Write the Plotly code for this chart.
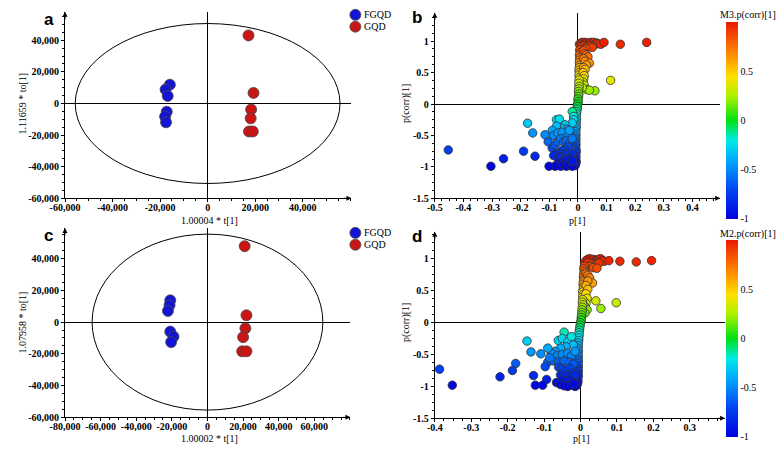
import plotly.graph_objects as go

# ---------------- data ----------------
# Panel a (OPLS-DA scores, M3)
a_fgqd_x = [-15900, -17700, -16800, -17200, -17900, -17500]
a_fgqd_y = [11900, 8900, 4800, -5200, -8300, -11900]
a_gqd_x = [17200, 19300, 18300, 18100, 17400, 19000]
a_gqd_y = [43100, 6700, -3750, -9400, -17700, -17700]

# Panel c (OPLS-DA scores, M2)
c_fgqd_x = [-20900, -21300, -22200, -20900, -19100, -20400]
c_fgqd_y = [13700, 10600, 7000, -6000, -9100, -12600]
c_gqd_x = [20900, 21900, 21300, 20000, 19500, 21900]
c_gqd_y = [47800, 4300, -3900, -9500, -18400, -18400]

# Hotelling T2 ellipse half-axes
a_ell = (55700, 50600)
c_ell = (64800, 55400)

# Panel b S-plot (p[1], p(corr)[1])
b_pts = [
    (0.005, 0.95), (0.01, 0.97), (0.015, 0.98), (0.02, 0.96), (0.025, 0.98), (0.03, 0.97),
    (0.035, 0.95), (0.04, 0.97), (0.045, 0.98), (0.05, 0.96), (0.055, 0.98), (0.06, 0.95),
    (0.065, 0.97), (0.07, 0.96), (0.08, 0.95), (0.091, 0.98), (0.148, 0.95), (0.24, 0.98),
    (0.012, 0.92), (0.022, 0.93), (0.03, 0.91), (0.042, 0.92), (0.05, 0.9), (0.028, 0.88),
    (0.006, 0.86), (0.008, 0.82), (0.005, 0.78), (0.007, 0.74), (0.006, 0.7), (0.005, 0.66),
    (0.006, 0.62), (0.005, 0.58), (0.004, 0.54), (0.005, 0.5), (0.004, 0.46), (0.005, 0.42),
    (0.02, 0.85), (0.025, 0.8), (0.03, 0.78), (0.035, 0.75), (0.02, 0.72), (0.025, 0.68),
    (0.04, 0.65), (0.03, 0.62), (0.02, 0.58), (0.025, 0.55), (0.018, 0.5), (0.022, 0.45),
    (0.02, 0.4), (0.018, 0.35), (0.022, 0.3), (0.114, 0.376), (0.059, 0.21), (0.031, 0.23),
    (0.04, 0.22), (0.015, 0.26),
    (0.004, 0.38), (0.003, 0.33), (0.004, 0.28), (0.003, 0.24), (0.002, 0.2), (0.003, 0.16),
    (0.002, 0.12), (0.0, 0.08), (0.001, 0.04), (-0.001, 0.0), (-0.002, -0.04), (-0.003, -0.08),
    (-0.004, -0.12), (-0.005, -0.16), (-0.006, -0.2), (-0.005, -0.24), (-0.006, -0.28),
    (-0.007, -0.32), (-0.006, -0.36), (-0.007, -0.4), (-0.008, -0.44), (-0.007, -0.48),
    (-0.008, -0.52), (-0.007, -0.56), (-0.008, -0.6), (-0.007, -0.64), (-0.008, -0.68),
    (-0.007, -0.72), (-0.006, -0.76), (-0.008, -0.8), (-0.007, -0.84), (-0.008, -0.88),
    (-0.006, -0.92), (-0.008, -0.95), (-0.01, -0.98), (-0.015, -0.96), (-0.02, -0.12),
    (-0.015, -0.2), (-0.015, -0.25), (-0.02, -0.3),
    (-0.075, -0.25), (-0.065, -0.24), (-0.045, -0.33), (-0.04, -0.4), (-0.06, -0.38),
    (-0.075, -0.35), (-0.09, -0.42), (-0.115, -0.49), (-0.085, -0.5), (-0.07, -0.46),
    (-0.055, -0.45), (-0.035, -0.5), (-0.03, -0.42), (-0.104, -0.6), (-0.09, -0.7),
    (-0.08, -0.65), (-0.07, -0.6), (-0.06, -0.55), (-0.05, -0.6), (-0.04, -0.58),
    (-0.03, -0.62), (-0.02, -0.55), (-0.025, -0.7), (-0.035, -0.68), (-0.045, -0.72),
    (-0.055, -0.74), (-0.065, -0.78), (-0.075, -0.8), (-0.085, -0.82), (-0.07, -0.86),
    (-0.06, -0.84), (-0.05, -0.82), (-0.04, -0.8), (-0.03, -0.78), (-0.02, -0.8),
    (-0.025, -0.86), (-0.035, -0.88), (-0.045, -0.9), (-0.055, -0.92), (-0.065, -0.94),
    (-0.075, -0.97), (-0.08, -0.99), (-0.06, -0.99), (-0.05, -0.97), (-0.04, -0.99),
    (-0.03, -0.97), (-0.02, -0.99), (-0.015, -0.92), (-0.02, -0.9), (-0.101, -0.99),
    (-0.15, -0.83), (-0.19, -0.75), (-0.26, -0.87), (-0.304, -0.99), (-0.453, -0.73),
    (-0.176, -0.305), (-0.158, -0.46),
]

# Panel d S-plot (p[1], p(corr)[1])
d_pts = [
    (0.011, 0.93), (0.015, 0.97), (0.02, 0.99), (0.025, 1.0), (0.03, 0.98), (0.035, 0.99),
    (0.04, 0.97), (0.045, 0.98), (0.05, 0.99), (0.055, 1.0), (0.06, 0.97), (0.065, 0.96),
    (0.078, 0.97), (0.108, 0.96), (0.153, 0.95), (0.195, 0.97), (0.02, 0.94), (0.03, 0.92),
    (0.04, 0.9), (0.05, 0.93), (0.025, 0.88), (0.035, 0.86), (0.045, 0.85),
    (0.01, 0.88), (0.009, 0.84), (0.01, 0.8), (0.009, 0.76), (0.008, 0.72), (0.009, 0.68),
    (0.008, 0.64), (0.007, 0.6), (0.008, 0.56), (0.007, 0.52), (0.006, 0.48), (0.007, 0.44),
    (0.006, 0.4), (0.015, 0.77), (0.02, 0.74), (0.025, 0.7), (0.033, 0.62), (0.02, 0.65),
    (0.015, 0.58), (0.02, 0.52), (0.015, 0.45), (0.018, 0.38), (0.042, 0.34), (0.056, 0.22),
    (0.098, 0.31), (0.015, 0.3), (0.012, 0.25), (0.018, 0.2), (0.012, 0.15),
    (0.006, 0.36), (0.005, 0.32), (0.006, 0.28), (0.005, 0.24), (0.004, 0.2), (0.004, 0.16),
    (0.003, 0.12), (0.002, 0.08), (0.002, 0.04), (0.0, 0.0), (-0.001, -0.04), (-0.002, -0.08),
    (-0.003, -0.12), (-0.004, -0.16), (-0.004, -0.2), (-0.005, -0.24), (-0.005, -0.28),
    (-0.006, -0.32), (-0.006, -0.36), (-0.007, -0.4), (-0.006, -0.44), (-0.007, -0.48),
    (-0.006, -0.52), (-0.007, -0.56), (-0.006, -0.6), (-0.007, -0.64), (-0.006, -0.68),
    (-0.007, -0.72), (-0.006, -0.76), (-0.007, -0.8), (-0.006, -0.84), (-0.008, -0.88),
    (-0.007, -0.92), (-0.008, -0.95), (-0.01, -0.98), (-0.015, -1.0),
    (-0.045, -0.15), (-0.061, -0.28), (-0.05, -0.25), (-0.035, -0.3), (-0.025, -0.22),
    (-0.02, -0.35), (-0.04, -0.38), (-0.055, -0.4), (-0.07, -0.45), (-0.08, -0.48),
    (-0.065, -0.52), (-0.05, -0.5), (-0.035, -0.48), (-0.025, -0.52), (-0.015, -0.45),
    (-0.09, -0.62), (-0.097, -0.69), (-0.075, -0.6), (-0.06, -0.62), (-0.045, -0.6),
    (-0.03, -0.62), (-0.02, -0.65), (-0.06, -0.7), (-0.05, -0.72), (-0.04, -0.75),
    (-0.03, -0.72), (-0.02, -0.78), (-0.055, -0.82), (-0.045, -0.85), (-0.035, -0.82),
    (-0.025, -0.85), (-0.015, -0.82), (-0.05, -0.9), (-0.04, -0.92), (-0.03, -0.9),
    (-0.02, -0.93), (-0.066, -0.94), (-0.055, -0.97), (-0.045, -0.99), (-0.035, -1.0),
    (-0.025, -0.98), (-0.018, -0.96), (-0.093, -0.89), (-0.104, -0.98), (-0.124, -0.98),
    (-0.129, -0.83), (-0.109, -0.49), (-0.136, -0.46), (-0.147, -0.29), (-0.178, -0.64),
    (-0.187, -0.75), (-0.221, -0.85), (-0.352, -0.98), (-0.387, -0.73), (-0.09, -0.4),
    (-0.085, -0.55),
]

b_x = [p[0] for p in b_pts]
b_y = [p[1] for p in b_pts]
d_x = [p[0] for p in d_pts]
d_y = [p[1] for p in d_pts]

# tick labels
a_xticks = [-60000, -40000, -20000, 0, 20000, 40000]
a_xlabels = ["-60,000", "-40,000", "-20,000", "0", "20,000", "40,000"]
sc_yticks = [-60000, -40000, -20000, 0, 20000, 40000]
sc_ylabels = ["-60,000", "-40,000", "-20,000", "0", "20,000", "40,000"]
c_xticks = [-80000, -60000, -40000, -20000, 0, 20000, 40000, 60000]
c_xlabels = ["-80,000", "-60,000", "-40,000", "-20,000", "0", "20,000", "40,000", "60,000"]
b_xticks = [-0.5, -0.4, -0.3, -0.2, -0.1, 0, 0.1, 0.2, 0.3, 0.4]
b_xlabels = ["-0.5", "-0.4", "-0.3", "-0.2", "-0.1", "0", "0.1", "0.2", "0.3", "0.4"]
d_xticks = [-0.4, -0.3, -0.2, -0.1, 0, 0.1, 0.2, 0.3]
d_xlabels = ["-0.4", "-0.3", "-0.2", "-0.1", "0", "0.1", "0.2", "0.3"]
s_yticks = [-1.5, -1, -0.5, 0, 0.5, 1]
s_ylabels = ["-1.5", "-1", "-0.5", "0", "0.5", "1"]
cb_ticks = [-1, -0.5, 0, 0.5]
cb_labels = ["-1", "-0.5", "0", "0.5"]

groups = ["FGQD", "GQD"]

# ---------------- style ----------------
W, H = 784, 451
SERIF = "Liberation Serif"
BLUE = "rgb(20,20,215)"
RED = "rgb(200,22,22)"
EDGE = "rgb(70,70,70)"
JET = [
    [0.0, "rgb(0,0,225)"], [0.15, "rgb(0,70,240)"], [0.3, "rgb(0,170,255)"],
    [0.4, "rgb(0,235,230)"], [0.5, "rgb(0,225,20)"], [0.62, "rgb(170,240,0)"],
    [0.72, "rgb(255,225,0)"], [0.85, "rgb(255,130,0)"], [1.0, "rgb(235,25,0)"],
]


def px_x(p):
    return p / W


def px_y(p):
    return 1 - p / H


fig = go.Figure()

# score plots
for xa, ya, fx, fy, gx, gy in [
    ("x", "y", a_fgqd_x, a_fgqd_y, a_gqd_x, a_gqd_y),
    ("x3", "y3", c_fgqd_x, c_fgqd_y, c_gqd_x, c_gqd_y),
]:
    fig.add_trace(go.Scatter(x=fx, y=fy, mode="markers", name=groups[0], xaxis=xa, yaxis=ya,
                             showlegend=False,
                             marker=dict(size=11, color=BLUE, line=dict(color=EDGE, width=0.8))))
    fig.add_trace(go.Scatter(x=gx, y=gy, mode="markers", name=groups[1], xaxis=xa, yaxis=ya,
                             showlegend=False,
                             marker=dict(size=11, color=RED, line=dict(color=EDGE, width=0.8))))

# S-plots
for xa, ya, sx, sy, cy in [("x2", "y2", b_x, b_y, 122), ("x4", "y4", d_x, d_y, 343)]:
    fig.add_trace(go.Scatter(
        x=sx, y=sy, mode="markers", xaxis=xa, yaxis=ya, showlegend=False,
        marker=dict(size=8.5, color=sy, colorscale=JET, cmin=-1, cmax=1,
                    line=dict(color="rgb(50,50,50)", width=0.8),
                    showscale=True,
                    colorbar=dict(x=px_x(725), xanchor="left", xpad=0, ypad=0,
                                  y=px_y(cy), yanchor="middle", len=200 / H, lenmode="fraction",
                                  thickness=12, outlinewidth=0, ticks="",
                                  tickvals=cb_ticks, ticktext=cb_labels,
                                  tickfont=dict(family=SERIF, size=10, color="black"))),
    ))

tickfont = dict(family=SERIF, size=10, color="black", weight="bold")


def axis(domain, rng, tv, tt, minor_dtick, standoff=0):
    return dict(domain=domain, range=rng, tickvals=tv, ticktext=tt, tickfont=tickfont,
                showline=True, linecolor="black", linewidth=1, ticks="outside", ticklen=3,
                tickcolor="black", showgrid=False, zeroline=True, zerolinecolor="black",
                zerolinewidth=1, mirror=False, ticklabelstandoff=standoff,
                minor=dict(ticks="outside", ticklen=2, tickcolor="black", dtick=minor_dtick,
                           tick0=0, showgrid=False))


fig.update_layout(
    width=W, height=H, margin=dict(l=0, r=0, t=0, b=0),
    paper_bgcolor="white", plot_bgcolor="white",
    xaxis=dict(axis([px_x(51), px_x(343)], [-60000, 60500], a_xticks, a_xlabels, 5000, -3), anchor="y"),
    yaxis=dict(axis([px_y(201), px_y(12)], [-60000, 58000], sc_yticks, sc_ylabels, 5000), anchor="x"),
    xaxis2=dict(axis([px_x(428), px_x(719)], [-0.5, 0.497], b_xticks, b_xlabels, 0.025, -3), anchor="y2"),
    yaxis2=dict(axis([px_y(201), px_y(13)], [-1.5, 1.45], s_yticks, s_ylabels, 0.125), anchor="x2"),
    xaxis3=dict(axis([px_x(51), px_x(342)], [-80000, 80300], c_xticks, c_xlabels, 5000, -3), anchor="y3"),
    yaxis3=dict(axis([px_y(423), px_y(231)], [-60000, 59300], sc_yticks, sc_ylabels, 5000), anchor="x3"),
    xaxis4=dict(axis([px_x(428), px_x(724)], [-0.4, 0.397], d_xticks, d_xlabels, 0.025, -3), anchor="y4"),
    yaxis4=dict(axis([px_y(424), px_y(235)], [-1.5, 1.42], s_yticks, s_ylabels, 0.125), anchor="x4"),
)

shapes = []
for xr, yr, (ex, ey) in [("x", "y", a_ell), ("x3", "y3", c_ell)]:
    shapes.append(dict(type="circle", xref=xr, yref=yr, x0=-ex, x1=ex, y0=-ey, y1=ey,
                       line=dict(color="black", width=1), layer="below"))

# manual legends
for (cy1, cy2) in [(15, 27), (236, 248)]:
    for cy, col in [(cy1, BLUE), (cy2, RED)]:
        shapes.append(dict(type="circle", xref="paper", yref="paper", xsizemode="pixel",
                           ysizemode="pixel", xanchor=px_x(347), yanchor=px_y(cy),
                           x0=-5.5, x1=5.5, y0=-5.5, y1=5.5, fillcolor=col,
                           line=dict(color=EDGE, width=0.8)))
fig.update_layout(shapes=shapes)

ann = []


def text(x, y, s, size=10, rot=0, bold=False, family=SERIF, xanchor="center"):
    ann.append(dict(x=px_x(x), y=px_y(y), xref="paper", yref="paper", text=s, showarrow=False,
                    textangle=rot, xanchor=xanchor, yanchor="middle",
                    font=dict(family=family, size=size, color="black",
                              weight="bold" if bold else "normal")))


for (cy1, cy2) in [(15, 27), (236, 248)]:
    text(354, cy1, groups[0], xanchor="left")
    text(354, cy2, groups[1], xanchor="left")

text(198, 223, "1.00004 * t[1]")
text(8, 105, "1.11659 * to[1]", rot=-90)
text(198, 444, "1.00002 * t[1]")
text(8, 327, "1.07958 * to[1]", rot=-90)
text(573, 223, "p[1]")
text(578, 444, "p[1]")
text(398, 105, "p(corr)[1]", rot=-90)
text(398, 327, "p(corr)[1]", rot=-90)
text(747, 15, "M3.p(corr)[1]")
text(747, 237, "M2.p(corr)[1]")
text(35, 20, "a", size=17, bold=True, family="Liberation Sans")
text(410, 18, "b", size=17, bold=True, family="Liberation Sans")
text(34, 239, "c", size=17, bold=True, family="Liberation Sans")
text(410, 240, "d", size=17, bold=True, family="Liberation Sans")

# axis arrows
for xr, yr in [("x", "y"), ("x2", "y2"), ("x3", "y3"), ("x4", "y4")]:
    ann.append(dict(xref=f"{xr} domain", yref=f"{yr} domain", x=1, y=0, ax=-9, ay=0,
                    showarrow=True, arrowhead=2, arrowsize=1, arrowwidth=1, arrowcolor="black",
                    text=""))
    ann.append(dict(xref=f"{xr} domain", yref=f"{yr} domain", x=0, y=1, ax=0, ay=9,
                    showarrow=True, arrowhead=2, arrowsize=1, arrowwidth=1, arrowcolor="black",
                    text=""))

fig.update_layout(annotations=ann)

fig.write_html("out.html", config={"displayModeBar": False},
               post_script="document.body.style.margin='0';document.body.style.overflow='hidden';")
